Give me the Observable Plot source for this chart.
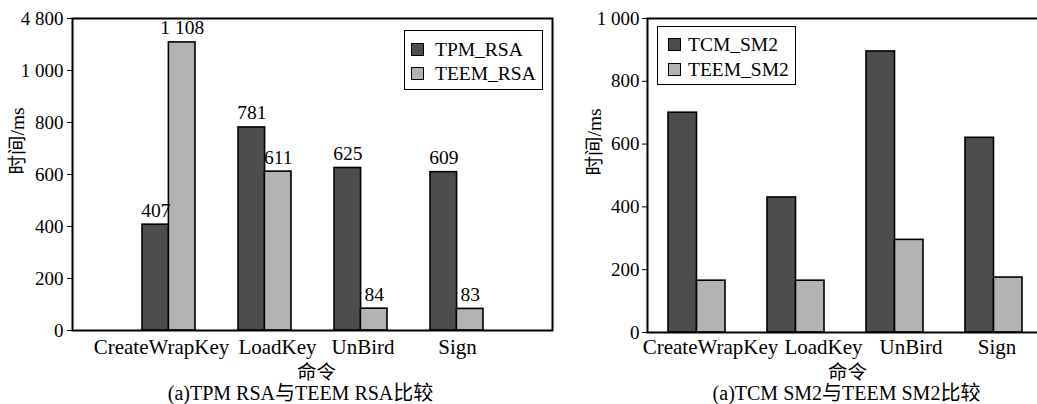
<!DOCTYPE html>
<html>
<head>
<meta charset="utf-8">
<script src="https://cdn.jsdelivr.net/npm/d3@7"></script>
<script src="https://cdn.jsdelivr.net/npm/@observablehq/plot@0.6"></script>
<style>
  body { margin: 0; background: #fff; }
  #wrap { position: relative; width: 1037px; height: 404px; overflow: hidden; background: #fff;
          font-family: "Liberation Serif", "Noto Sans CJK SC", serif; color: #000; }
  .panel { position: absolute; top: 0; }
  .legend { position: absolute; box-sizing: border-box; border: 1.5px solid #000; background: #fff; font-size: 19.5px; }
  .legend .sw { position: absolute; box-sizing: border-box; width: 13px; height: 13px; border: 1.5px solid #000; }
  .legend .lab { position: absolute; line-height: 19px; white-space: nowrap; }
</style>
</head>
<body>
<div id="wrap"></div>
<script>
// ---- data ----
const commands = ["CreateWrapKey", "LoadKey", "UnBird", "Sign"];
const rsaNames = ["TPM_RSA", "TEEM_RSA"];
const tpmRsa = [407, 781, 625, 609];
const teemRsa = [1108, 611, 84, 83];
const sm2Names = ["TCM_SM2", "TEEM_SM2"];
const tcmSm2 = [700, 430, 895, 620];
const teemSm2 = [165, 165, 295, 175];
const leftTicks = [0, 200, 400, 600, 800, 1000, 1200];
const leftTickLabels = ["0", "200", "400", "600", "800", "1 000", "4 800"];
const rightTicks = [0, 200, 400, 600, 800, 1000];
const rightTickLabels = ["0", "200", "400", "600", "800", "1 000"];
const yLabel = "时间/ms";
const xLabel = "命令";
const leftCaption = "(a)TPM RSA与TEEM RSA比较";
const rightCaption = "(a)TCM SM2与TEEM SM2比较";

// ---- layout / style ----
const leftLabelShift = [-7.5, 12.5, 2, 0.5];
const rightLabelShift = [13.5, 27.5, 16, 3];
const darkFill = "#4d4d4d";
const lightFill = "#b3b3b3";
const FONT = '"Liberation Serif", "Noto Sans CJK SC", serif';
const FS = 19.5;

function fmtVal(v) {
  const s = String(v);
  return v >= 1000 ? s.slice(0, s.length - 3) + " " + s.slice(-3) : s;
}

function makePanel(o) {
  const rowsA = commands.map((c, i) => ({cmd: c, v: o.a[i]}));
  const rowsB = commands.map((c, i) => ({cmd: c, v: o.b[i]}));
  const labelMap = new Map(o.ticks.map((t, i) => [t, o.tickLabels[i]]));
  const marks = [
    Plot.barY(rowsA, {x: "cmd", y: "v", fill: darkFill, stroke: "#000", strokeWidth: 1.6, insetRight: o.half}),
    Plot.barY(rowsB, {x: "cmd", y: "v", fill: lightFill, stroke: "#000", strokeWidth: 1.6, insetLeft: o.half}),
    Plot.frame({stroke: "#000", strokeWidth: 2}),
    Plot.axisY({ticks: o.ticks, tickFormat: d => labelMap.get(d), tickSize: 5, tickPadding: o.yPad, label: null, fontSize: 19}),
    ...commands.map((c, i) => Plot.text([c], {x: d => d, text: d => d, frameAnchor: "bottom", lineAnchor: "middle", dy: o.tickDy, dx: o.shift[i], fontSize: 21})),
    Plot.text([yLabel], {text: d => d, frameAnchor: "left", lineAnchor: "middle", rotate: -90, dx: o.yLabelDx, fontSize: FS}),
    Plot.text([xLabel], {text: d => d, frameAnchor: "bottom", lineAnchor: "middle", dy: o.xLabelDy, dx: o.xLabelDx, fontSize: FS}),
    Plot.text([o.caption], {text: d => d, frameAnchor: "bottom", lineAnchor: "middle", dy: o.captionDy, dx: o.captionDx, fontSize: 20})
  ];
  if (o.valueLabels) {
    marks.push(Plot.text(rowsA, {x: "cmd", y: "v", text: d => fmtVal(d.v), dx: -o.half / 2, dy: -8, lineAnchor: "bottom", fontSize: FS}));
    marks.push(Plot.text(rowsB, {x: "cmd", y: "v", text: d => fmtVal(d.v), dx: o.half / 2, dy: -8, lineAnchor: "bottom", fontSize: FS}));
  }
  return Plot.plot({
    width: o.width,
    height: 404,
    marginTop: 18,
    marginBottom: o.marginBottom,
    marginLeft: o.marginLeft,
    marginRight: o.marginRight,
    style: {fontFamily: FONT, fontSize: FS + "px", color: "#000", background: "transparent", maxWidth: "none"},
    x: {domain: commands, paddingInner: o.paddingInner, paddingOuter: o.paddingOuter, label: null, axis: null},
    y: {domain: o.yDomain, label: null},
    marks
  });
}

function makeLegend(names, box) {
  const lg = document.createElement("div");
  lg.className = "legend";
  Object.assign(lg.style, {left: box.left + "px", top: box.top + "px", width: box.width + "px", height: box.height + "px"});
  const fills = [darkFill, lightFill];
  names.forEach((n, i) => {
    const sw = document.createElement("div");
    sw.className = "sw";
    Object.assign(sw.style, {left: box.swLeft + "px", top: (box.rowTops[i]) + "px", background: fills[i]});
    const lab = document.createElement("div");
    lab.className = "lab";
    lab.textContent = n;
    Object.assign(lab.style, {left: box.textLeft + "px", top: (box.rowTops[i] - 3) + "px"});
    lg.appendChild(sw);
    lg.appendChild(lab);
  });
  return lg;
}

const wrap = document.getElementById("wrap");

const left = makePanel({
  a: tpmRsa, b: teemRsa, yDomain: [0, 1200], ticks: leftTicks, tickLabels: leftTickLabels,
  width: 560, marginLeft: 72, marginRight: 8, marginBottom: 74,
  paddingInner: 0.45, paddingOuter: 0.725, half: 26.4, yPad: 4, tickDy: 17, shift: leftLabelShift,
  yLabelDx: -55, xLabelDy: 42, xLabelDx: 4, captionDy: 63, captionDx: -12,
  caption: leftCaption, valueLabels: true
});
const lp = document.createElement("div");
lp.className = "panel";
lp.style.left = "0px";
lp.appendChild(left);
wrap.appendChild(lp);

const right = makePanel({
  a: tcmSm2, b: teemSm2, yDomain: [0, 1000], ticks: rightTicks, tickLabels: rightTickLabels,
  width: 483, marginLeft: 87, marginRight: 0, marginBottom: 72,
  paddingInner: 0.424, paddingOuter: 0.212, half: 28.5, yPad: 3, tickDy: 15, shift: rightLabelShift,
  yLabelDx: -53, xLabelDy: 40, xLabelDx: 2, captionDy: 61, captionDx: 1,
  caption: rightCaption, valueLabels: false
});
const rp = document.createElement("div");
rp.className = "panel";
rp.style.left = "560px";
rp.appendChild(right);
wrap.appendChild(rp);

wrap.appendChild(makeLegend(rsaNames, {left: 404, top: 30, width: 139, height: 60, swLeft: 6, textLeft: 30, rowTops: [12, 36]}));
wrap.appendChild(makeLegend(sm2Names, {left: 657, top: 26, width: 139, height: 59, swLeft: 10, textLeft: 30, rowTops: [11, 36]}));
</script>
</body>
</html>
